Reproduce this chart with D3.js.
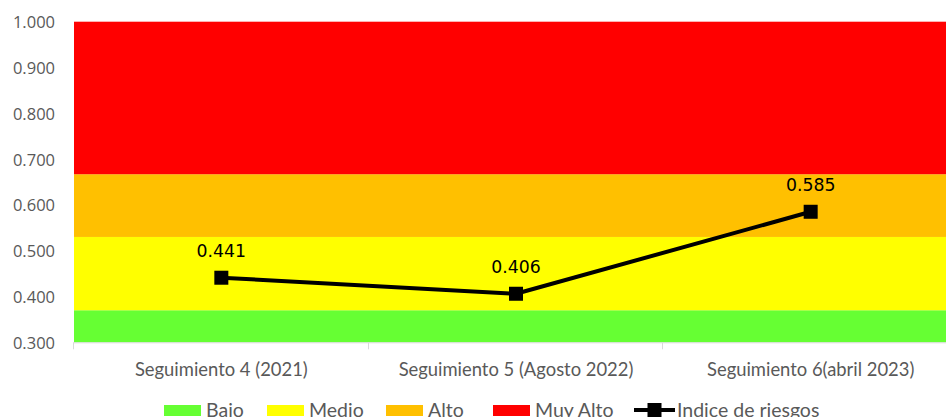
<!DOCTYPE html>
<html lang="es">
<head>
<meta charset="UTF-8">
<title>Indice de riesgos</title>
<script src="https://d3js.org/d3.v7.min.js"></script>
<style>
    body { margin: 0; background: #fff; overflow: hidden; }
    .tick-label { fill: #595959; font-family: "Open Sans", sans-serif; font-size: 16.5px; }
    .cat-label { fill: #595959; font-family: Lato, sans-serif; font-size: 18.4px; }
    .legend-label { fill: #595959; font-family: Lato, sans-serif; font-size: 19.5px; }
    .data-label { fill: #000; font-family: "DejaVu Sans", sans-serif; font-size: 17.3px; }
</style>
</head>
<body>
<div id="chart"></div>
<script>
    const categories = ["Seguimiento 4 (2021)", "Seguimiento 5 (Agosto 2022)", "Seguimiento 6(abril 2023)"];
    const indice = [0.441, 0.406, 0.585];
    const bandNames = ["Bajo", "Medio", "Alto", "Muy Alto"];
    const bandTops = [0.37, 0.53, 0.667, 1.0];
    const bandColors = ["#66ff33", "#ffff00", "#ffc000", "#ff0000"];
    const yTicks = [0.3, 0.4, 0.5, 0.6, 0.7, 0.8, 0.9, 1.0];
    const seriesName = "Indice de riesgos";

    const width = 946, height = 417;
    const plot = { left: 74, right: 958, top: 21.7, bottom: 342.3 };

    const svg = d3.select("#chart").append("svg")
        .attr("width", width)
        .attr("height", height);

    const x = d3.scaleBand()
        .domain(categories)
        .range([plot.left, plot.right])
        .padding(0);

    const y = d3.scaleLinear()
        .domain([0.3, 1.0])
        .range([plot.bottom, plot.top]);

    // risk bands (stacked areas)
    const bands = bandTops.map((top, i) => ({
        name: bandNames[i],
        lo: i === 0 ? y.domain()[0] : bandTops[i - 1],
        hi: top,
        color: bandColors[i]
    }));

    svg.append("g").selectAll("rect")
        .data(bands)
        .enter().append("rect")
        .attr("x", plot.left)
        .attr("width", plot.right - plot.left)
        .attr("y", d => y(d.hi))
        .attr("height", d => y(d.lo) - y(d.hi))
        .attr("fill", d => d.color);

    // category axis
    const axisG = svg.append("g");
    axisG.append("line")
        .attr("x1", plot.left).attr("x2", plot.right)
        .attr("y1", plot.bottom + 0.5).attr("y2", plot.bottom + 0.5)
        .attr("stroke", "#d9d9d9").attr("stroke-width", 1);
    const tickXs = categories.map(c => x(c)).concat([plot.right]);
    axisG.selectAll("line.tk")
        .data(tickXs)
        .enter().append("line")
        .attr("class", "tk")
        .attr("x1", d => Math.round(d) - 0.5).attr("x2", d => Math.round(d) - 0.5)
        .attr("y1", plot.bottom).attr("y2", plot.bottom + 7)
        .attr("stroke", "#d9d9d9");
    axisG.selectAll("text")
        .data(categories)
        .enter().append("text")
        .attr("class", "cat-label")
        .attr("x", d => x(d) + x.bandwidth() / 2)
        .attr("y", 376)
        .attr("text-anchor", "middle")
        .text(d => d);

    // value axis labels
    svg.append("g").selectAll("text")
        .data(yTicks)
        .enter().append("text")
        .attr("class", "tick-label")
        .attr("x", 55)
        .attr("y", d => y(d) + 6.5)
        .attr("text-anchor", "end")
        .text(d => d3.format(".3f")(d));

    // series line
    const pts = categories.map((c, i) => ({ c, v: indice[i] }));
    const line = d3.line()
        .x(d => x(d.c) + x.bandwidth() / 2)
        .y(d => y(d.v));

    svg.append("path")
        .datum(pts)
        .attr("d", line)
        .attr("fill", "none")
        .attr("stroke", "#000")
        .attr("stroke-width", 4)
        .attr("stroke-linejoin", "round");

    const ms = 14;
    svg.append("g").selectAll("rect")
        .data(pts)
        .enter().append("rect")
        .attr("x", d => x(d.c) + x.bandwidth() / 2 - ms / 2)
        .attr("y", d => y(d.v) - ms / 2)
        .attr("width", ms).attr("height", ms)
        .attr("fill", "#000");

    svg.append("g").selectAll("text")
        .data(pts)
        .enter().append("text")
        .attr("class", "data-label")
        .attr("x", d => x(d.c) + x.bandwidth() / 2)
        .attr("y", d => y(d.v) - 21)
        .attr("text-anchor", "middle")
        .text(d => d3.format(".3f")(d.v));

    // legend
    const legendY = 410;
    const legendItems = bands.map(b => ({ name: b.name, color: b.color, type: "area" }))
        .concat([{ name: seriesName, color: "#000", type: "line" }]);
    const legendXs = [164, 267, 386, 493, 634];

    const lg = svg.append("g");
    legendItems.forEach((d, i) => {
        const gx = legendXs[i];
        if (d.type === "area") {
            lg.append("rect")
                .attr("x", gx).attr("y", legendY - 5)
                .attr("width", 37).attr("height", 11)
                .attr("fill", d.color);
        } else {
            lg.append("line")
                .attr("x1", gx).attr("x2", gx + 41)
                .attr("y1", legendY).attr("y2", legendY)
                .attr("stroke", "#000").attr("stroke-width", 4);
            lg.append("rect")
                .attr("x", gx + 20.5 - 7).attr("y", legendY - 7)
                .attr("width", 14).attr("height", 14)
                .attr("fill", "#000");
        }
        lg.append("text")
            .attr("class", "legend-label")
            .attr("x", gx + (d.type === "area" ? 42 : 43))
            .attr("y", legendY + 7)
            .text(d.name);
    });
</script>
</body>
</html>
